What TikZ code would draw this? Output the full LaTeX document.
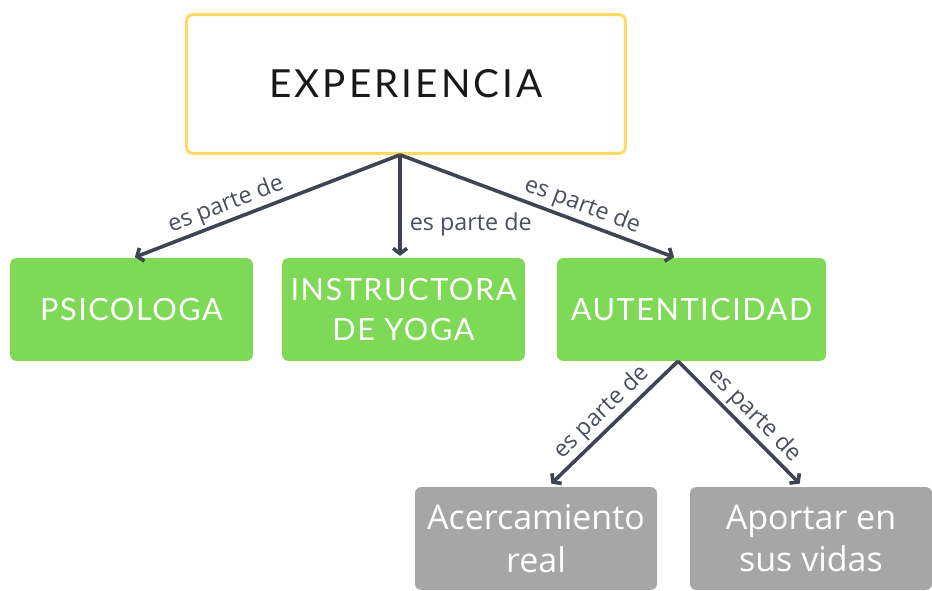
\documentclass[tikz,border=0pt]{standalone}
\usepackage{fontspec}
\setmainfont{Lato}
\newfontfamily\labelfont{Open Sans}
\usetikzlibrary{arrows.meta}

\definecolor{boxyellow}{RGB}{255,217,102}
\definecolor{boxgreen}{RGB}{126,217,87}
\definecolor{boxgray}{RGB}{166,166,166}
\definecolor{linkgray}{RGB}{62,68,82}
\definecolor{labelgray}{RGB}{74,79,92}

\tikzset{
	topbox/.style={draw=boxyellow, line width=2.25pt, fill=white, rounded corners=4.5pt, minimum width=329pt, minimum height=104pt, font=\fontsize{29}{34}\selectfont\addfontfeatures{LetterSpace=8}, text=black!90},
	greenbox/.style={fill=boxgreen, rounded corners=4.5pt, minimum width=182pt, minimum height=77pt, align=center, text=white, font=\fontsize{23}{30}\selectfont\addfontfeatures{LetterSpace=5}},
	graybox/.style={fill=boxgray, rounded corners=4.5pt, minimum width=181.5pt, minimum height=77pt, align=center, text=white, font=\labelfont\fontsize{25.5}{32}\selectfont},
	link/.style={draw=linkgray, line width=2.7pt, -{Straight Barb[length=4pt,width=10.5pt]}},
	linklabel/.style={text=labelgray, font=\labelfont\fontsize{17.5}{20}\selectfont, inner sep=2pt}
}

\begin{document}
\begin{tikzpicture}[x=0.75pt, y=-0.75pt]
	\useasboundingbox (0,0) rectangle (932,590);

	\node[topbox] (exp) at (406,84) {EXPERIENCIA};

	\node[greenbox] (psi) at (131.5,309.5) {PSICOLOGA};
	\node[greenbox] (ins) at (403.5,309.5) {INSTRUCTORA\\DE YOGA};
	\node[greenbox, minimum width=201.75pt] (aut) at (691.5,309.5) {AUTENTICIDAD};

	\node[graybox] (ace) at (536,538.5) {Acercamiento\\real};
	\node[graybox] (apo) at (811,538.5) {Aportar en\\sus vidas};

	\draw[link, shorten >=1.5pt] ([xshift=-4.5pt]exp.south) -- ([xshift=1.1pt]psi.north) node[linklabel, pos=0.63, sloped, above]{es parte de};
	\draw[link, shorten >=1.5pt] ([xshift=-4.5pt]exp.south) -- ([xshift=-2.6pt]ins.north) node[linklabel, pos=0.68, right, xshift=4pt]{es parte de};
	\draw[link, shorten >=1.5pt] ([xshift=-4.5pt]exp.south) -- ([xshift=-11.6pt]aut.north) node[linklabel, pos=0.64, sloped, above]{es parte de};

	\draw[link, shorten >=3.5pt] ([xshift=-10.1pt]aut.south) -- ([xshift=9pt]ace.north) node[linklabel, pos=0.5, sloped, above]{es parte de};
	\draw[link, shorten >=3.5pt] ([xshift=-10.1pt]aut.south) -- ([xshift=-6pt]apo.north) node[linklabel, pos=0.52, sloped, above]{es parte de};
\end{tikzpicture}
\end{document}
